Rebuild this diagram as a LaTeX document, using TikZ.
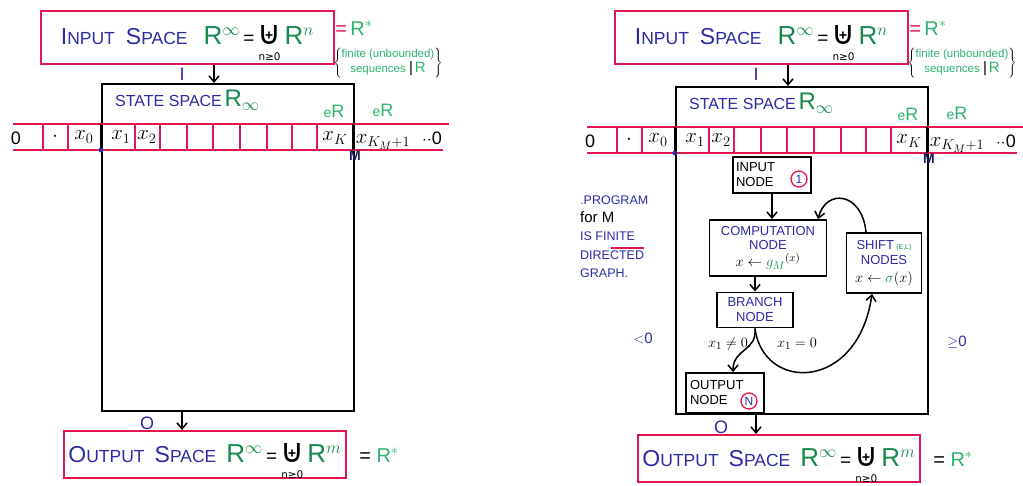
\documentclass[tikz,border=0pt]{standalone}
\usepackage{amsmath}
\usepackage{graphicx}
\usepackage{fontspec}
\setmainfont{Liberation Sans}
\newfontfamily\dejavu{DejaVu Sans}
\usetikzlibrary{arrows.meta}
\definecolor{rd}{HTML}{E3174F}
\definecolor{bl}{HTML}{2B2BA6}
\definecolor{gr}{HTML}{17894C}
\definecolor{lg}{HTML}{2DB36E}
\definecolor{nv}{HTML}{1A1A5A}
\newcommand{\scw}[2]{{\fontsize{23}{26}\selectfont #1}{\fontsize{17.5}{20}\selectfont #2}}
\newcommand{\bigUb}{\smash{\begin{tabular}[t]{@{}c@{}}\resizebox{!}{19pt}{\dejavu ⊎}\\[-6pt]{\dejavu\fontsize{10.5}{11}\selectfont n≥0}\end{tabular}}}
\newcommand{\Rexpr}[1]{{\fontsize{19}{22}\selectfont{\color{gr}\fontsize{26}{28}\selectfont R\smash{$^{\infty}$}}\,=\,\bigUb\,{\color{gr}\fontsize{26}{28}\selectfont R\smash{$^{#1}$}}}}
\newcommand{\inlabel}{\raisebox{3pt}{{\color{bl}\scw{I}{NPUT}\hspace{11pt}\scw{S}{PACE}}\hspace{16pt}\Rexpr{n}}}
\newcommand{\outlabel}{\raisebox{2pt}{{\color{bl}\scw{O}{UTPUT}\hspace{10pt}\scw{S}{PACE}}\hspace{10pt}\Rexpr{m}}}
\tikzset{
  redbox/.style={draw=rd, line width=2, inner sep=0, anchor=north west},
  stbox/.style={draw=black, line width=2, anchor=north west, inner sep=0},
  tapeline/.style={draw=rd, line width=2},
  tapetxt/.style={font=\fontsize{22}{24}\selectfont, inner sep=0},
  gbox/.style={draw=black, line width=1.8, inner sep=3, font=\fontsize{13}{15}\selectfont, align=center},
  circ/.style={draw=rd, line width=1.3, circle, inner sep=0, minimum size=16, font=\fontsize{12}{14}\selectfont\color{bl}},
  arr/.style={-{Straight Barb[length=6pt,width=10pt]}, line width=1.5},
  bltxt/.style={text=bl, inner sep=0},
}
\newcommand{\panel}[3]{%
  % state box
  \node[stbox, minimum width=252, minimum height=327] (#1st) at (101,{83+#2}) {};
  % tape
  \draw[tapeline] (13,{124+#2}) -- (449,{124+#2});
  \draw[tapeline] (13,{150+#2}) -- (443,{150+#2});
  \foreach \x in {43,68,135,160,187,213,240,267,292,317}
    \draw[tapeline] (\x,{124+#2}) -- (\x,{150+#2});
  \draw[line width=2] (101,{124+#2}) -- (101,{150+#2});
  \draw[line width=2] (353,{124+#2}) -- (353,{150+#2});
  \node[tapetxt, font=\fontsize{18}{20}\selectfont] (#1c0) at (16,{138+#2}) {0};
  \node[tapetxt] (#1c1) at (55,{137+#2}) {$\cdot$};
  \node[tapetxt] (#1c2) at (84,{137+#2}) {$x_0$};
  \node[tapetxt] (#1c3) at (121,{137+#2}) {$x_1$};
  \node[tapetxt] (#1c4) at (147,{137+#2}) {$x_2$};
  \node[tapetxt] (#1c5) at (335,{138+#2}) {$x_K$};
  \node[font=\fontsize{14}{16}\selectfont\bfseries, text=nv, inner sep=0] (#1cM) at (355,{156+#2}) {M};
  \node[tapetxt] (#1c6) at (383,{142+#2}) {$x_{K_M+1}$};
  \node[tapetxt, font=\fontsize{18}{20}\selectfont] (#1c7) at (432,{138+#2}) {$\cdot\cdot$0};
  \node[text=lg, font=\fontsize{18}{20}\selectfont, inner sep=0] (#1e1) at (334,{111+#2}) {{\fontsize{14}{16}\selectfont e}R};
  \node[text=lg, font=\fontsize{18}{20}\selectfont, inner sep=0] (#1e2) at (383,{110+#2}) {{\fontsize{14}{16}\selectfont e}R};
  \fill[bl] (101,{150+#2}) circle (2.5);
  \node[bltxt, anchor=west, font=\fontsize{16}{18}\selectfont] (#1sl) at (115,{100+#2}) {STATE SPACE\,{\color{gr}\fontsize{24}{26}\selectfont R$_{\infty}$}};
  % input
  \node[redbox, minimum width=293, minimum height=53] (#1in) at (40,10) {\inlabel};
  \node[inner sep=0, font=\fontsize{20}{22}\selectfont] (#1eq) at (354,28) {{\color{rd}=}\,{\color{lg}R$^{*}$}};
  \node[inner sep=0] (#1br) at (388,63) {$\left\{\text{\color{lg}\fontsize{11.5}{14}\selectfont\begin{tabular}{@{}c@{}}finite (unbounded)\\ sequences {\color{black}\fontsize{15}{15}\selectfont|}\,{\fontsize{15}{15}\selectfont R}\end{tabular}}\right\}$};
  \node[bltxt, font=\fontsize{18}{20}\selectfont] (#1I) at (182,74) {I};
  \coordinate (#1ax) at (214,0);
  \draw[arr] (#1in.south -| #1ax) -- (#1st.north -| #1ax);
  % output
  \node[redbox, minimum width=282, minimum height=47] (#1out) at (63,{430+#3}) {\outlabel};
  \node[inner sep=0, font=\fontsize{20}{22}\selectfont] (#1oeq) at (379,{455+#3}) {=\;{\color{lg}R$^{*}$}};
  \node[bltxt, font=\fontsize{18}{20}\selectfont] (#1O) at (147,{423+#3}) {O};
  \coordinate (#1ox) at (182,0);
  \draw[arr] (#1st.south -| #1ox) -- (#1out.north -| #1ox);
}
\begin{document}
\begin{tikzpicture}[x=1pt,y=-1pt]
\useasboundingbox (0,0) rectangle (1023,486);
\panel{l}{0}{0}
\begin{scope}[shift={(574,0)}]
\panel{r}{3}{4}
\end{scope}
% program graph
\node[gbox, text width=72, align=left, minimum height=36] (inode) at (772,175) {INPUT\\NODE};
\node[circ] (icirc) at (799,179) {1};
\node[gbox, minimum width=117, minimum height=56, inner sep=1] (cnode) at (768,248) {{\color{bl}COMPUTATION}\\[-1pt]{\color{bl}NODE}\\[2pt]{\fontsize{15}{16}\selectfont$x\leftarrow\textcolor{gr}{g_{M}}^{(x)}$}};
\node[gbox, minimum width=75, minimum height=60, inner sep=1] (snode) at (884,263) {{\color{bl}SHIFT}\,{\color{gr}\fontsize{7}{8}\selectfont(E,L)}\\{\color{bl}NODES}\\[3pt]{\fontsize{15}{16}\selectfont$x\leftarrow\textcolor{gr}{\sigma}(x)$}};
\node[gbox, minimum width=76, minimum height=35] (bnode) at (755,310) {{\color{bl}BRANCH}\\{\color{bl}NODE}};
\node[gbox, text width=70, align=left, minimum height=40, inner sep=4] (onode) at (725,393) {OUTPUT\\NODE};
\node[circ] (ocirc) at (749,401) {N};
\draw[arr] (inode.south) -- (inode.south |- cnode.north);
\draw[arr] (bnode.north |- cnode.south) -- (bnode.north);
\draw[arr] ([xshift=-18pt]snode.north) .. controls (862,192) and (826,188) .. ([xshift=50pt]cnode.north);
\draw[arr] (bnode.south) .. controls (757,352) and (733,348) .. ([xshift=8pt]onode.north);
\draw[arr] (bnode.south) .. controls (763,392) and (858,392) .. ([xshift=-12pt]snode.south);
\node[inner sep=0, font=\fontsize{15}{16}\selectfont] (lneq) at (728,344) {$x_1\neq0$};
\node[inner sep=0, font=\fontsize{15}{16}\selectfont] (leq) at (797,344) {$x_1=0$};
\node[bltxt, font=\fontsize{12.5}{18.5}\selectfont, align=left, anchor=north west] (prog) at (580,196) {{\color{rd}.}PROGRAM\\[-1pt]{\color{black}\fontsize{15}{18}\selectfont for M}\\IS FINITE\\DIRECTED\\GRAPH.};
\draw[rd, line width=1.8] (611,248) -- (644,248);
\node[bltxt, font=\fontsize{15}{16}\selectfont] (lt) at (643,338) {$<$0};
\node[bltxt, font=\fontsize{15}{16}\selectfont] (ge) at (957,342) {$\geq$0};
\end{tikzpicture}
\end{document}
